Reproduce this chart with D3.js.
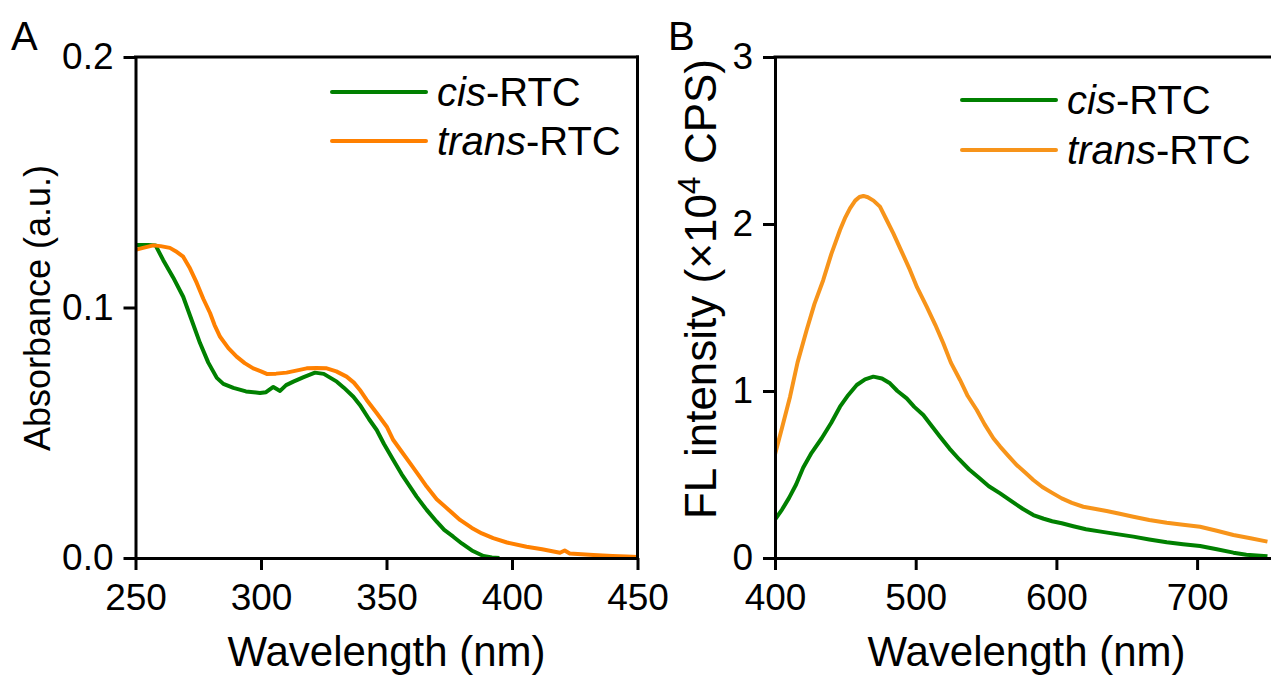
<!DOCTYPE html>
<html>
<head>
<meta charset="utf-8">
<script src="https://cdn.jsdelivr.net/npm/d3@7"></script>
<style>
  html, body { margin: 0; padding: 0; background: #fff; }
  svg { display: block; font-family: Arial, "Liberation Sans", sans-serif; }
</style>
</head>
<body>
<svg id="chart" width="1271" height="678"></svg>
<script>
// ---- Panel A: absorption spectra ----
const cisAbsWl = [250,255,258,261,265,269,272,275.7,279,282.4,285,289,294,299.6,302,304.9,307.6,310,312.9,317,321.5,325,330.2,333,336.8,339.4,343,346.1,349,352.7,356,359,362,366,370,373,376.6,380,384,388.6,392,395];
const cisAbs = [0.125,0.125,0.1248,0.119,0.112,0.1043,0.096,0.0858,0.078,0.0719,0.0695,0.0679,0.0665,0.0659,0.0662,0.0683,0.0667,0.069,0.0704,0.0722,0.074,0.0735,0.0704,0.068,0.0644,0.0611,0.0555,0.0511,0.0455,0.0391,0.0335,0.029,0.0245,0.0192,0.0145,0.0112,0.0085,0.0058,0.003,0.0008,0.0002,0];
const transAbsWl = [250,253,257.1,260,263.7,266,269,271.5,274.4,277,279.7,281.5,283.7,287,290.3,293.5,296.9,300,302.3,306,310.2,314,318.2,322,326.2,330,334.1,337,339.4,342.1,346,350.1,352.7,356,360,363,366,370,374.5,379.3,384,388,392.5,398,405.8,412,419.1,421,423,432.4,440,445.7,450];
const transAbs = [0.123,0.1238,0.1248,0.1245,0.1238,0.1225,0.1203,0.116,0.1098,0.1035,0.0978,0.093,0.0883,0.0838,0.0804,0.0778,0.0757,0.0745,0.0735,0.0736,0.074,0.0748,0.0757,0.0758,0.0757,0.0745,0.0724,0.07,0.0671,0.0631,0.058,0.0524,0.0471,0.0425,0.037,0.0328,0.0285,0.0235,0.0195,0.0152,0.012,0.0098,0.0079,0.0062,0.0045,0.0035,0.0021,0.003,0.0018,0.0012,0.0008,0.0006,0.0004];
const absXTicks = [250,300,350,400,450];
const absYTicks = [0.0,0.1,0.2];

// ---- Panel B: fluorescence spectra (×10^4 CPS) ----
const cisFlWl = [400,405,410,415,420,426,433.2,440,446.2,452,458.1,464,469.9,476,481.7,487,493.6,499,505.4,511,517.3,524,531,538,545,552,560,568,576,583.6,591,597,603.8,612,621,631.6,643,654.7,666,678.4,690,702.1,714,725.8,735,744.8,750];
const cisFl = [0.23,0.29,0.36,0.44,0.54,0.63,0.717,0.81,0.906,0.975,1.036,1.07,1.086,1.075,1.046,1.0,0.956,0.905,0.856,0.795,0.726,0.655,0.59,0.53,0.48,0.43,0.387,0.34,0.295,0.257,0.235,0.22,0.208,0.19,0.172,0.158,0.143,0.128,0.111,0.094,0.083,0.072,0.052,0.032,0.02,0.014,0.01];
const transFlWl = [400,405,410.7,416,422.5,428,434.3,440,446.2,450,453.3,457,460,462.8,466,470,474.6,479,484.1,490,495.9,501,507.8,514,519.6,525,531.5,537,543.4,549,555.2,560,566,572,578,583.6,590,597,603.8,611,619.1,627,635.7,645,654.7,666,678.4,690,702.1,714,725.8,738,750];
const transFl = [0.62,0.78,0.966,1.17,1.365,1.52,1.665,1.82,1.964,2.04,2.094,2.14,2.162,2.168,2.16,2.14,2.104,2.03,1.944,1.835,1.725,1.62,1.505,1.395,1.286,1.17,1.066,0.97,0.886,0.8,0.717,0.667,0.61,0.555,0.51,0.467,0.425,0.39,0.357,0.33,0.307,0.295,0.281,0.265,0.247,0.228,0.211,0.199,0.187,0.163,0.138,0.118,0.098];
const flXTicks = [400,500,600,700];
const flYTicks = [0,1,2,3];

const seriesNames = ["cis", "trans"];
const GREEN = "#008000";
const ORANGE_A = "#ff8000";
const ORANGE_B = "#f7941a";

const svg = d3.select("#chart");
const pairs = (xs, ys) => xs.map((x, i) => [x, ys[i]]);

function drawPanel(cfg) {
  const g = svg.append("g");
  const x = d3.scaleLinear().domain(cfg.xDomain).range(cfg.xRange);
  const y = d3.scaleLinear().domain(cfg.yDomain).range(cfg.yRange);

  const clipId = "clip-" + cfg.id;
  svg.append("defs").append("clipPath").attr("id", clipId)
    .append("rect")
    .attr("x", cfg.xRange[0]).attr("y", cfg.yRange[1] - 2)
    .attr("width", cfg.xRange[1] - cfg.xRange[0])
    .attr("height", cfg.yRange[0] - cfg.yRange[1] + 2);

  const line = d3.line().x(d => x(d[0])).y(d => y(d[1]));
  cfg.series.forEach(s => {
    g.append("path")
      .datum(s.data)
      .attr("clip-path", `url(#${clipId})`)
      .attr("fill", "none")
      .attr("stroke", s.color)
      .attr("stroke-width", 4)
      .attr("stroke-linejoin", "round")
      .attr("d", line);
  });

  // frame: top and right lines
  g.append("line")
    .attr("x1", cfg.xRange[0]).attr("x2", cfg.xRange[1])
    .attr("y1", cfg.yRange[1]).attr("y2", cfg.yRange[1])
    .attr("stroke", "#000").attr("stroke-width", 3).attr("stroke-linecap", "square");
  g.append("line")
    .attr("x1", cfg.xRange[1]).attr("x2", cfg.xRange[1])
    .attr("y1", cfg.yRange[1]).attr("y2", cfg.yRange[0])
    .attr("stroke", "#000").attr("stroke-width", 3).attr("stroke-linecap", "square");

  const xAxis = g.append("g")
    .attr("transform", `translate(0,${cfg.yRange[0]})`)
    .call(d3.axisBottom(x).tickValues(cfg.xTicks).tickSize(12).tickPadding(14).tickSizeOuter(0).tickFormat(d3.format("d")));
  const yAxis = g.append("g")
    .attr("transform", `translate(${cfg.xRange[0]},0)`)
    .call(d3.axisLeft(y).tickValues(cfg.yTicks).tickSize(12).tickPadding(10).tickSizeOuter(0).tickFormat(d3.format(cfg.yFormat)));

  [xAxis, yAxis].forEach(a => {
    a.select(".domain").attr("stroke", "#000").attr("stroke-width", 3);
    a.selectAll(".tick line").attr("stroke", "#000").attr("stroke-width", 3);
    a.selectAll(".tick text").attr("fill", "#000").attr("font-size", 37).attr("font-family", "Arial, 'Liberation Sans', sans-serif");
  });

  // axis titles
  g.append("text")
    .attr("x", cfg.xTitleX)
    .attr("y", 666)
    .attr("text-anchor", "middle")
    .attr("font-size", 42)
    .text("Wavelength (nm)");

  const yt = g.append("text")
    .attr("transform", `translate(${cfg.yTitleX},${cfg.yTitleY}) rotate(-90)`)
    .attr("text-anchor", "middle")
    .attr("font-size", cfg.yTitleSize);
  cfg.yTitle(yt);

  // panel letter
  g.append("text")
    .attr("x", cfg.letterX).attr("y", 50)
    .attr("font-size", 40)
    .text(cfg.letter);

  // legend
  cfg.series.forEach((s, i) => {
    const ly = cfg.legendY[i];
    g.append("line")
      .attr("x1", cfg.legendX).attr("x2", cfg.legendX + 94)
      .attr("y1", ly).attr("y2", ly)
      .attr("stroke", s.color).attr("stroke-width", 4).attr("stroke-linecap", "round");
    const t = g.append("text")
      .attr("x", cfg.legendX + 105).attr("y", ly + 14)
      .attr("font-size", 40);
    t.append("tspan").attr("font-style", "italic").text(s.name);
    t.append("tspan").text("-RTC");
  });
}

drawPanel({
  id: "a",
  letter: "A", letterX: 11,
  xDomain: [250, 450], xRange: [135.5, 637.5],
  yDomain: [0, 0.2], yRange: [558, 57],
  xTicks: absXTicks, yTicks: absYTicks, yFormat: ".1f",
  xTitleX: 386.5,
  yTitleX: 50, yTitleY: 308, yTitleSize: 36,
  yTitle: t => t.text("Absorbance (a.u.)"),
  legendX: 332, legendY: [92, 141],
  series: [
    { name: seriesNames[0], color: GREEN, data: pairs(cisAbsWl, cisAbs) },
    { name: seriesNames[1], color: ORANGE_A, data: pairs(transAbsWl, transAbs) }
  ]
});

drawPanel({
  id: "b",
  letter: "B", letterX: 668,
  xDomain: [400, 800], xRange: [775, 1337.8],
  yDomain: [0, 3], yRange: [558, 57],
  xTicks: flXTicks, yTicks: flYTicks, yFormat: "d",
  xTitleX: 1026.5,
  yTitleX: 716, yTitleY: 289, yTitleSize: 44,
  yTitle: t => {
    t.append("tspan").text("FL intensity (×10");
    t.append("tspan").attr("font-size", 32).attr("dy", -16).text("4");
    t.append("tspan").attr("dy", 16).text(" CPS)");
  },
  legendX: 962, legendY: [100, 150],
  series: [
    { name: seriesNames[0], color: GREEN, data: pairs(cisFlWl, cisFl) },
    { name: seriesNames[1], color: ORANGE_B, data: pairs(transFlWl, transFl) }
  ]
});
</script>
</body>
</html>
